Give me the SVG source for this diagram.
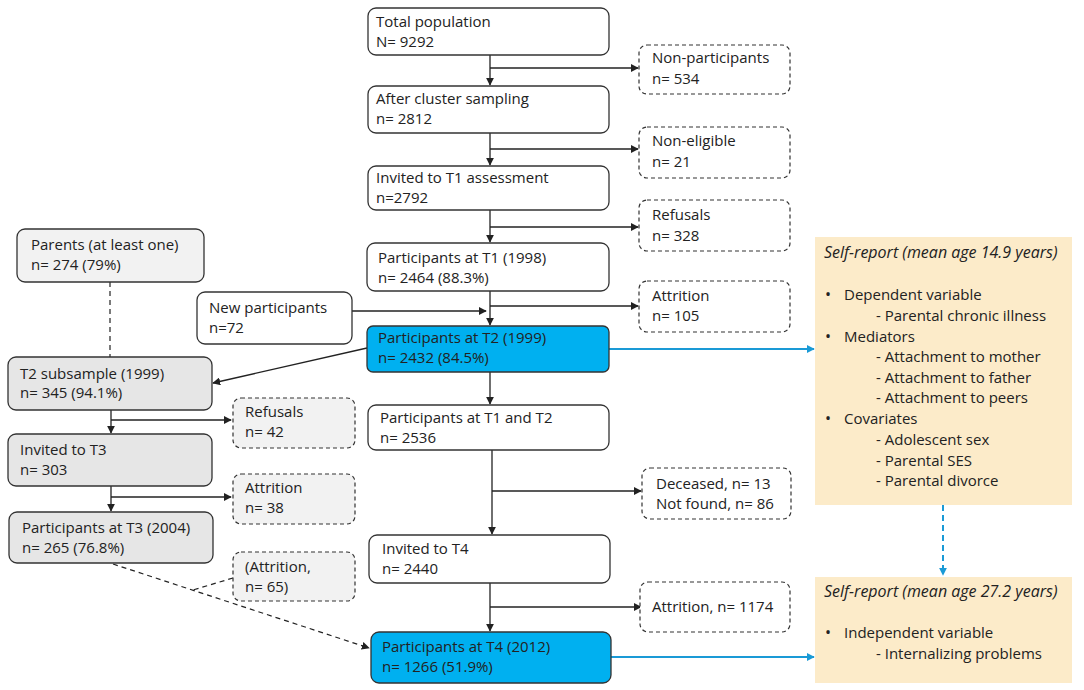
<svg xmlns="http://www.w3.org/2000/svg" width="1084" height="690" viewBox="0 0 1084 690">
<defs>
<style>
text{font-family:"Open Sans","Liberation Sans",sans-serif;font-size:15px;fill:#222}
.it{font-style:italic;font-size:16px}
.bu{font-size:16px}
.box{fill:#fff;stroke:#333;stroke-width:1.3}
.blue{fill:#00B0F0;stroke:#333;stroke-width:1.3}
.dash{fill:#fff;stroke:#333;stroke-width:1.2;stroke-dasharray:4 3}
.dashg{fill:#F2F2F2;stroke:#333;stroke-width:1.2;stroke-dasharray:4 3}
.g1{fill:#F2F2F2;stroke:#333;stroke-width:1.3}
.g2{fill:#E6E6E6;stroke:#333;stroke-width:1.3}
.yel{fill:#FCEBC9}
.ln{fill:none;stroke:#222;stroke-width:1.3}
.dl{fill:none;stroke:#222;stroke-width:1.2;stroke-dasharray:5 4}
.bl{fill:none;stroke:#1A9AD6;stroke-width:1.8}
.bld{fill:none;stroke:#1A9AD6;stroke-width:2;stroke-dasharray:6 4}
</style>
<marker id="ah" viewBox="0 0 10 10" refX="9" refY="5" markerWidth="8" markerHeight="8" markerUnits="userSpaceOnUse" orient="auto"><path d="M0,0 L10,5 L0,10 z" fill="#222"/></marker>
<marker id="ahb" viewBox="0 0 10 10" refX="9" refY="5" markerWidth="8" markerHeight="8" markerUnits="userSpaceOnUse" orient="auto"><path d="M0,0 L10,5 L0,10 z" fill="#1A9AD6"/></marker>
</defs>

<g id="connectors">
<path class="ln" d="M490,55 V85" marker-end="url(#ah)"/>
<path class="ln" d="M490,68 H638" marker-end="url(#ah)"/>
<path class="ln" d="M490,133 V165" marker-end="url(#ah)"/>
<path class="ln" d="M490,149 H638" marker-end="url(#ah)"/>
<path class="ln" d="M490,210 V242" marker-end="url(#ah)"/>
<path class="ln" d="M490,227 H638" marker-end="url(#ah)"/>
<path class="ln" d="M490,291 V325" marker-end="url(#ah)"/>
<path class="ln" d="M490,306 H638" marker-end="url(#ah)"/>
<path class="ln" d="M352,311 H486" marker-end="url(#ah)"/>
<path class="ln" d="M367,348 L213,383" marker-end="url(#ah)"/>
<path class="ln" d="M490,372 V404" marker-end="url(#ah)"/>
<path class="ln" d="M492,450 V534" marker-end="url(#ah)"/>
<path class="ln" d="M492,491 H641" marker-end="url(#ah)"/>
<path class="ln" d="M490,583 V631" marker-end="url(#ah)"/>
<path class="ln" d="M490,607 H641" marker-end="url(#ah)"/>
<path class="dl" d="M110,282 V357"/>
<path class="ln" d="M111,410 V433" marker-end="url(#ah)"/>
<path class="ln" d="M111,420 H231" marker-end="url(#ah)"/>
<path class="ln" d="M111,486 V511" marker-end="url(#ah)"/>
<path class="ln" d="M111,497 H231" marker-end="url(#ah)"/>
<path class="dl" d="M113,564 L369,648" marker-end="url(#ah)"/>
<path class="dl" d="M233,578 L193,590"/>
<path class="bl" d="M609,349 H814" marker-end="url(#ahb)"/>
<path class="bl" d="M611,657 H814" marker-end="url(#ahb)"/>
<path class="bld" d="M943,505 V575" marker-end="url(#ahb)"/>
</g>

<g id="total"><rect class="box" x="368" y="8" width="241" height="47" rx="8"/><text x="376" y="27">Total population</text><text x="376" y="47">N= 9292</text></g>
<g id="cluster"><rect class="box" x="368" y="86" width="241" height="47" rx="8"/><text x="376" y="104">After cluster sampling</text><text x="376" y="124">n= 2812</text></g>
<g id="invitedT1"><rect class="box" x="368" y="166" width="241" height="44" rx="8"/><text x="376" y="183">Invited to T1 assessment</text><text x="376" y="203">n=2792</text></g>
<g id="partT1"><rect class="box" x="367" y="243" width="242" height="48" rx="8"/><text x="378" y="263">Participants at T1 (1998)</text><text x="378" y="283">n= 2464 (88.3%)</text></g>
<g id="partT2"><rect class="blue" x="367" y="326" width="242" height="46" rx="6"/><text x="378" y="343">Participants at T2 (1999)</text><text x="378" y="363">n= 2432 (84.5%)</text></g>
<g id="partT1T2"><rect class="box" x="368" y="405" width="241" height="45" rx="8"/><text x="380" y="423">Participants at T1 and T2</text><text x="380" y="443">n= 2536</text></g>
<g id="invitedT4"><rect class="box" x="369" y="535" width="241" height="48" rx="8"/><text x="382" y="554">Invited to T4</text><text x="382" y="574">n= 2440</text></g>
<g id="partT4"><rect class="blue" x="371" y="632" width="240" height="51" rx="8"/><text x="382" y="652">Participants at T4 (2012)</text><text x="382" y="672">n= 1266 (51.9%)</text></g>

<g id="nonpart"><rect class="dash" x="639" y="45" width="151" height="49" rx="8"/><text x="652" y="63">Non-participants</text><text x="652" y="84">n= 534</text></g>
<g id="noneligible"><rect class="dash" x="639" y="127" width="151" height="51" rx="8"/><text x="652" y="146">Non-eligible</text><text x="652" y="167">n= 21</text></g>
<g id="refusals1"><rect class="dash" x="639" y="200" width="151" height="51" rx="8"/><text x="652" y="220">Refusals</text><text x="652" y="241">n= 328</text></g>
<g id="attrition1"><rect class="dash" x="639" y="281" width="151" height="51" rx="8"/><text x="652" y="301">Attrition</text><text x="652" y="321">n= 105</text></g>
<g id="deceased"><rect class="dash" x="642" y="468" width="149" height="51" rx="8"/><text x="656" y="489">Deceased, n= 13</text><text x="656" y="509">Not found, n= 86</text></g>
<g id="attrition2"><rect class="dash" x="640" y="582" width="150" height="50" rx="8"/><text x="652" y="612">Attrition, n= 1174</text></g>

<g id="newpart"><rect class="box" x="197" y="292" width="155" height="52" rx="8"/><text x="209" y="313">New participants</text><text x="209" y="333">n=72</text></g>
<g id="parents"><rect class="g1" x="17" y="229" width="187" height="53" rx="8"/><text x="31" y="250">Parents (at least one)</text><text x="31" y="270">n= 274 (79%)</text></g>
<g id="t2sub"><rect class="g2" x="8" y="357" width="204" height="53" rx="8"/><text x="20" y="379">T2 subsample (1999)</text><text x="20" y="398">n= 345 (94.1%)</text></g>
<g id="refusals2"><rect class="dashg" x="233" y="398" width="122" height="50" rx="8"/><text x="245" y="417">Refusals</text><text x="245" y="437">n= 42</text></g>
<g id="invitedT3"><rect class="g2" x="8" y="434" width="204" height="52" rx="8"/><text x="20" y="455">Invited to T3</text><text x="20" y="475">n= 303</text></g>
<g id="attrition3"><rect class="dashg" x="233" y="474" width="122" height="50" rx="8"/><text x="245" y="493">Attrition</text><text x="245" y="513">n= 38</text></g>
<g id="partT3"><rect class="g2" x="9" y="512" width="204" height="51" rx="8"/><text x="22" y="533">Participants at T3 (2004)</text><text x="22" y="553">n= 265 (76.8%)</text></g>
<g id="attrition4"><rect class="dashg" x="233" y="552" width="122" height="49" rx="8"/><text x="245" y="572">(Attrition,</text><text x="245" y="592">n= 65)</text></g>

<g id="selfreport1"><rect class="yel" x="815" y="237" width="257" height="268"/>
<text class="it" x="824" y="258">Self-report (mean age 14.9 years)</text>
<text class="bu" x="825" y="300">•</text><text x="844" y="300">Dependent variable</text>
<text x="876" y="321">- Parental chronic illness</text>
<text class="bu" x="825" y="342">•</text><text x="844" y="342">Mediators</text>
<text x="876" y="362">- Attachment to mother</text>
<text x="876" y="383">- Attachment to father</text>
<text x="876" y="403">- Attachment to peers</text>
<text class="bu" x="825" y="424">•</text><text x="844" y="424">Covariates</text>
<text x="876" y="445">- Adolescent sex</text>
<text x="876" y="466">- Parental SES</text>
<text x="876" y="486">- Parental divorce</text>
</g>
<g id="selfreport2"><rect class="yel" x="815" y="577" width="257" height="106"/>
<text class="it" x="824" y="597">Self-report (mean age 27.2 years)</text>
<text class="bu" x="825" y="638">•</text><text x="844" y="638">Independent variable</text>
<text x="876" y="659">- Internalizing problems</text>
</g>
</svg>
